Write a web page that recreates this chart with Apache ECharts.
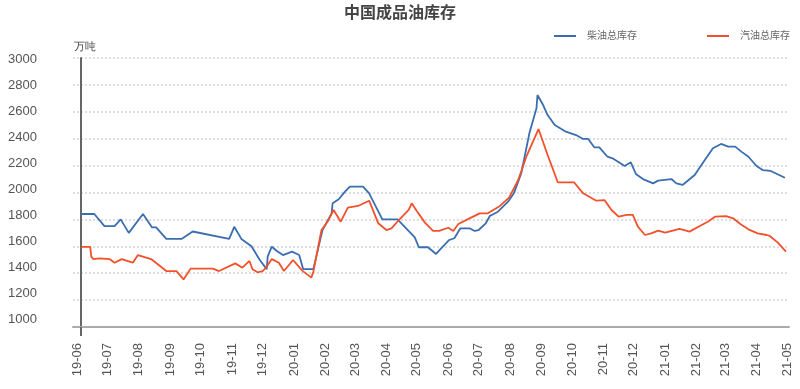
<!DOCTYPE html>
<html>
<head>
<meta charset="utf-8">
<script src="https://cdn.jsdelivr.net/npm/echarts@6.0.0/dist/echarts.min.js"></script>
<style>html,body{margin:0;padding:0;background:#fff;}#c{width:800px;height:389px;}</style>
</head>
<body>
<div id="c"></div>
<script>
var titleText = '中国成品油库存';
var unitText = '万吨';
var seriesNames = ['柴油总库存', '汽油总库存'];
var yTickValues = [1000,1200,1400,1600,1800,2000,2200,2400,2600,2800,3000];
var xTickLabels = ['19-06','19-07','19-08','19-09','19-10','19-11','19-12','20-01','20-02','20-03','20-04','20-05','20-06','20-07','20-08','20-09','20-10','20-11','20-12','21-01','21-02','21-03','21-04','21-05'];

var dieselDates = ['2019-06-05','2019-06-18','2019-06-28','2019-07-08','2019-07-14','2019-07-22','2019-08-05','2019-08-14','2019-08-18','2019-08-28','2019-09-12','2019-09-23','2019-10-29','2019-11-03','2019-11-10','2019-11-20','2019-11-28','2019-12-05','2019-12-06','2019-12-10','2019-12-15','2019-12-21','2019-12-30','2020-01-06','2020-01-10','2020-01-20','2020-01-29','2020-02-07','2020-02-08','2020-02-14','2020-02-20','2020-02-25','2020-03-09','2020-03-15','2020-03-28','2020-04-12','2020-04-29','2020-05-03','2020-05-12','2020-05-20','2020-05-25','2020-06-02','2020-06-07','2020-06-13','2020-06-22','2020-06-27','2020-07-01','2020-07-08','2020-07-12','2020-07-20','2020-07-30','2020-08-05','2020-08-12','2020-08-20','2020-08-27','2020-08-28','2020-09-02','2020-09-07','2020-09-14','2020-09-25','2020-10-05','2020-10-12','2020-10-17','2020-10-23','2020-10-28','2020-11-05','2020-11-10','2020-11-22','2020-11-28','2020-12-03','2020-12-10','2020-12-20','2020-12-25','2021-01-07','2021-01-12','2021-01-18','2021-01-30','2021-02-09','2021-02-17','2021-02-25','2021-03-04','2021-03-11','2021-03-17','2021-03-24','2021-04-01','2021-04-07','2021-04-15','2021-04-29'];
var dieselValues = [1840,1840,1750,1750,1800,1700,1840,1740,1740,1655,1655,1710,1655,1745,1655,1600,1500,1430,1525,1597,1565,1535,1560,1535,1430,1430,1720,1845,1920,1950,2005,2043,2043,1994,1800,1800,1667,1593,1593,1543,1585,1647,1660,1734,1734,1714,1721,1771,1825,1857,1932,1999,2143,2440,2626,2725,2658,2576,2502,2452,2427,2398,2398,2336,2336,2266,2254,2197,2225,2138,2100,2068,2088,2100,2068,2056,2130,2242,2329,2361,2341,2341,2304,2266,2197,2167,2160,2110];

var gasolineDates = ['2019-06-05','2019-06-14','2019-06-15','2019-06-17','2019-06-23','2019-07-03','2019-07-08','2019-07-15','2019-07-26','2019-07-31','2019-08-13','2019-08-28','2019-09-07','2019-09-14','2019-09-21','2019-10-13','2019-10-19','2019-11-04','2019-11-11','2019-11-18','2019-11-21','2019-11-26','2019-12-01','2019-12-05','2019-12-10','2019-12-17','2019-12-22','2019-12-31','2020-01-09','2020-01-18','2020-01-20','2020-01-28','2020-02-03','2020-02-09','2020-02-16','2020-02-23','2020-03-04','2020-03-15','2020-03-24','2020-04-01','2020-04-06','2020-04-14','2020-04-23','2020-04-26','2020-05-01','2020-05-09','2020-05-17','2020-05-23','2020-06-01','2020-06-06','2020-06-11','2020-06-22','2020-07-02','2020-07-10','2020-07-22','2020-07-31','2020-08-09','2020-08-17','2020-08-29','2020-09-07','2020-09-17','2020-10-03','2020-10-12','2020-10-25','2020-11-02','2020-11-09','2020-11-16','2020-11-24','2020-11-30','2020-12-05','2020-12-12','2020-12-18','2020-12-25','2021-01-01','2021-01-15','2021-01-25','2021-02-04','2021-02-12','2021-02-19','2021-03-02','2021-03-09','2021-03-16','2021-03-24','2021-04-02','2021-04-11','2021-04-14','2021-04-22','2021-04-30'];
var gasolineValues = [1595,1595,1523,1505,1510,1505,1478,1505,1478,1535,1505,1416,1416,1354,1434,1434,1416,1473,1441,1491,1429,1407,1416,1448,1505,1478,1416,1498,1419,1367,1411,1721,1783,1870,1783,1887,1900,1939,1771,1721,1734,1801,1870,1920,1862,1776,1714,1714,1738,1714,1766,1808,1845,1845,1900,1962,2093,2266,2472,2279,2076,2076,1994,1939,1944,1870,1820,1833,1833,1746,1684,1696,1716,1701,1729,1709,1751,1783,1820,1825,1808,1766,1726,1696,1684,1677,1627,1560];

function ts(s) {
  var p = s.split('-');
  return new Date(+p[0], +p[1] - 1, +p[2]).getTime();
}
function zip(d, v) { return d.map(function (x, i) { return [ts(x), v[i]]; }); }
function monthStart(label) {
  return new Date(2000 + parseInt(label.slice(0, 2), 10), parseInt(label.slice(3), 10) - 1, 1).getTime();
}
var xTickValues = xTickLabels.map(monthStart);
function fmtMonth(v) {
  var i = xTickValues.indexOf(+v);
  if (i >= 0) return xTickLabels[i];
  var d = new Date(v);
  var m = d.getMonth() + 1;
  return String(d.getFullYear()).slice(2) + '-' + (m < 10 ? '0' + m : m);
}

var font = 'Arial, "Liberation Sans", "Noto Sans CJK SC", sans-serif';
var chart = echarts.init(document.getElementById('c'), null, { renderer: 'canvas' });
chart.setOption({
  animation: false,
  backgroundColor: '#fff',
  textStyle: { fontFamily: font },
  title: {
    text: titleText,
    left: 'center',
    top: 1,
    textStyle: { fontSize: 16, fontWeight: 'bold', color: '#444', fontFamily: font }
  },
  legend: {
    left: 549,
    top: 26,
    icon: 'rect',
    itemWidth: 22,
    itemHeight: 2,
    itemGap: 70,
    textStyle: { fontSize: 10, color: '#666', padding: [0, 0, 0, 6], fontFamily: font },
    data: seriesNames
  },
  graphic: [{
    type: 'text',
    left: 74,
    top: 41,
    style: { text: unitText, fontSize: 11, fill: '#444', font: '11px ' + font }
  }],
  grid: { left: 73, right: 11, top: 58, bottom: 62, containLabel: false },
  xAxis: {
    type: 'value',
    min: ts('2019-05-28'),
    max: ts('2021-05-03'),
    axisLine: { onZero: false, lineStyle: { color: '#aaa', width: 2 } },
    axisTick: {
      show: true,
      customValues: [ts(dieselDates[0])],
      length: 9,
      lineStyle: { color: '#666', width: 2 }
    },
    axisLabel: {
      customValues: xTickValues,
      rotate: 90,
      margin: 16,
      fontSize: 13,
      color: '#555',
      showMinLabel: true,
      showMaxLabel: true,
      formatter: function (v) { return fmtMonth(v); }
    },
    splitLine: { show: false }
  },
  yAxis: [{
    type: 'value',
    min: 1000,
    max: 3000,
    interval: 200,
    offset: -8,
    axisLine: { show: true, lineStyle: { color: '#666', width: 2 } },
    axisTick: { show: false },
    axisLabel: { show: false },
    splitLine: { show: true, lineStyle: { type: [2, 2], color: '#d4d4d4', width: 1.5 } }
  }, {
    type: 'value',
    min: 938.34,
    max: 3011.56,
    position: 'left',
    offset: 0,
    axisLine: { show: false },
    axisTick: { show: false },
    splitLine: { show: false },
    axisLabel: {
      customValues: yTickValues,
      margin: 36,
      fontSize: 13,
      color: '#555',
      formatter: function (v) { return String(Math.round(v)); }
    }
  }],
  series: [{
    name: seriesNames[0],
    type: 'line',
    yAxisIndex: 0,
    data: zip(dieselDates, dieselValues),
    symbol: 'none',
    lineStyle: { color: '#3a6eaf', width: 1.8 },
    itemStyle: { color: '#3a6eaf' }
  }, {
    name: seriesNames[1],
    type: 'line',
    yAxisIndex: 0,
    data: zip(gasolineDates, gasolineValues),
    symbol: 'none',
    lineStyle: { color: '#f2512b', width: 1.8 },
    itemStyle: { color: '#f2512b' }
  }]
});
</script>
</body>
</html>
